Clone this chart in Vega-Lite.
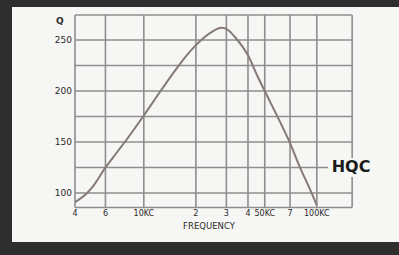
{
  "$schema": "https://vega.github.io/schema/vega-lite/v6.json",
  "width": 387,
  "height": 235,
  "autosize": {"type": "none"},
  "padding": {"left": 12, "top": 7, "right": 0, "bottom": 13},
  "background": "#2e2e2e",
  "config": {"view": {"fill": "#f6f6f4", "stroke": null}},
  "datasets": {
    "hgrid": [{"q": 274.5}, {"q": 250}, {"q": 225}, {"q": 200}, {"q": 175}, {"q": 150}, {"q": 125}, {"q": 100}, {"q": 85.8}],
    "vgrid": [{"f": 4000}, {"f": 6000}, {"f": 10000}, {"f": 20000}, {"f": 30000}, {"f": 40000}, {"f": 50000}, {"f": 70000}, {"f": 100000}, {"f": 160000}],
    "curve": [
      {"f": 4000, "q": 91}, {"f": 4700, "q": 100}, {"f": 5000, "q": 105}, {"f": 6000, "q": 125},
      {"f": 7000, "q": 140}, {"f": 8000, "q": 153}, {"f": 10000, "q": 176}, {"f": 12500, "q": 200},
      {"f": 15000, "q": 219}, {"f": 17500, "q": 234}, {"f": 20000, "q": 245}, {"f": 22500, "q": 253},
      {"f": 25000, "q": 258.5}, {"f": 28000, "q": 262}, {"f": 30000, "q": 261}, {"f": 32000, "q": 257},
      {"f": 34000, "q": 252}, {"f": 37000, "q": 244}, {"f": 40000, "q": 235}, {"f": 45000, "q": 216},
      {"f": 50000, "q": 200}, {"f": 60000, "q": 173}, {"f": 70000, "q": 149}, {"f": 80000, "q": 125},
      {"f": 90000, "q": 106}, {"f": 100000, "q": 88}
    ],
    "ylabels": [{"q": 250, "label": "250"}, {"q": 200, "label": "200"}, {"q": 150, "label": "150"}, {"q": 100, "label": "100"}],
    "xlabels": [
      {"f": 4000, "label": "4"}, {"f": 6000, "label": "6"}, {"f": 10000, "label": "10KC"},
      {"f": 20000, "label": "2"}, {"f": 30000, "label": "3"}, {"f": 40000, "label": "4"},
      {"f": 50000, "label": "50KC"}, {"f": 70000, "label": "7"}, {"f": 100000, "label": "100KC"}
    ]
  },
  "layer": [
    {
      "data": {"name": "hgrid"},
      "mark": {"type": "rule", "color": "#8e8e8e", "strokeWidth": 1.6},
      "encoding": {
        "y": {"field": "q", "type": "quantitative", "scale": {"domain": [52, 282.4], "nice": false, "zero": false}, "axis": null},
        "x": {"datum": 4000, "type": "quantitative", "scale": {"type": "log", "domain": [1730, 298500], "nice": false}, "axis": null},
        "x2": {"datum": 160000}
      }
    },
    {
      "data": {"name": "vgrid"},
      "mark": {"type": "rule", "color": "#8e8e8e", "strokeWidth": 1.6},
      "encoding": {
        "x": {"field": "f", "type": "quantitative", "scale": {"type": "log", "domain": [1730, 298500], "nice": false}, "axis": null},
        "y": {"datum": 85.8, "type": "quantitative", "scale": {"domain": [52, 282.4], "nice": false, "zero": false}, "axis": null},
        "y2": {"datum": 274.5}
      }
    },
    {
      "data": {"values": [{"label": "HQC"}]},
      "mark": {"type": "rect", "fill": "#f6f6f4"},
      "encoding": {
        "x": {"datum": 116000, "type": "quantitative", "scale": {"type": "log", "domain": [1730, 298500], "nice": false}, "axis": null},
        "x2": {"datum": 213000},
        "y": {"datum": 115.7, "type": "quantitative", "scale": {"domain": [52, 282.4], "nice": false, "zero": false}, "axis": null},
        "y2": {"datum": 134.3}
      }
    },
    {
      "data": {"name": "curve"},
      "mark": {"type": "line", "color": "#85797a", "strokeWidth": 2, "interpolate": "monotone"},
      "encoding": {
        "x": {"field": "f", "type": "quantitative", "scale": {"type": "log", "domain": [1730, 298500], "nice": false}, "axis": null},
        "y": {"field": "q", "type": "quantitative", "scale": {"domain": [52, 282.4], "nice": false, "zero": false}, "axis": null}
      }
    },
    {
      "data": {"name": "ylabels"},
      "mark": {"type": "text", "align": "right", "baseline": "middle", "font": "DejaVu Sans", "fontSize": 9, "color": "#2a2a2a"},
      "encoding": {
        "x": {"datum": 3840, "type": "quantitative", "scale": {"type": "log", "domain": [1730, 298500], "nice": false}, "axis": null},
        "y": {"field": "q", "type": "quantitative", "scale": {"domain": [52, 282.4], "nice": false, "zero": false}, "axis": null},
        "text": {"field": "label"}
      }
    },
    {
      "data": {"values": [{"label": "Q"}]},
      "mark": {"type": "text", "align": "center", "baseline": "middle", "font": "DejaVu Sans", "fontSize": 9, "fontWeight": "bold", "color": "#2a2a2a"},
      "encoding": {
        "x": {"datum": 3270, "type": "quantitative", "scale": {"type": "log", "domain": [1730, 298500], "nice": false}, "axis": null},
        "y": {"datum": 268.6, "type": "quantitative", "scale": {"domain": [52, 282.4], "nice": false, "zero": false}, "axis": null},
        "text": {"field": "label"}
      }
    },
    {
      "data": {"name": "xlabels"},
      "mark": {"type": "text", "align": "center", "baseline": "middle", "font": "DejaVu Sans", "fontSize": 8, "color": "#2a2a2a"},
      "encoding": {
        "x": {"field": "f", "type": "quantitative", "scale": {"type": "log", "domain": [1730, 298500], "nice": false}, "axis": null},
        "y": {"datum": 79.4, "type": "quantitative", "scale": {"domain": [52, 282.4], "nice": false, "zero": false}, "axis": null},
        "text": {"field": "label"}
      }
    },
    {
      "data": {"values": [{"label": "FREQUENCY"}]},
      "mark": {"type": "text", "align": "center", "baseline": "middle", "font": "DejaVu Sans", "fontSize": 8.5, "color": "#2a2a2a"},
      "encoding": {
        "x": {"datum": 23800, "type": "quantitative", "scale": {"type": "log", "domain": [1730, 298500], "nice": false}, "axis": null},
        "y": {"datum": 67.6, "type": "quantitative", "scale": {"domain": [52, 282.4], "nice": false, "zero": false}, "axis": null},
        "text": {"field": "label"}
      }
    },
    {
      "data": {"values": [{"label": "HQC"}]},
      "mark": {"type": "text", "align": "center", "baseline": "middle", "font": "DejaVu Sans", "fontSize": 16, "fontWeight": "bold", "color": "#1a1a1a"},
      "encoding": {
        "x": {"datum": 157600, "type": "quantitative", "scale": {"type": "log", "domain": [1730, 298500], "nice": false}, "axis": null},
        "y": {"datum": 125.5, "type": "quantitative", "scale": {"domain": [52, 282.4], "nice": false, "zero": false}, "axis": null},
        "text": {"field": "label"}
      }
    }
  ]
}
